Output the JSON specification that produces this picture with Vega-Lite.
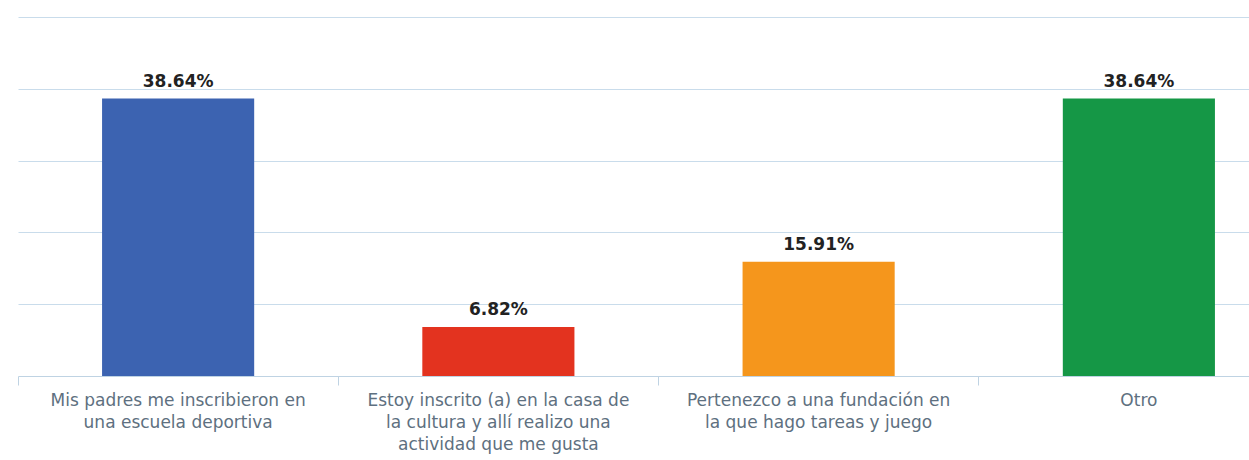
{
  "$schema": "https://vega.github.io/schema/vega-lite/v6.json",
  "width": 1231,
  "height": 359,
  "autosize": {"type": "none"},
  "padding": {"left": 18, "top": 17, "right": 0, "bottom": 84},
  "background": "white",
  "config": {"view": {"stroke": null}},
  "data": {
    "values": [
      {"cat": "Mis padres me inscribieron en|una escuela deportiva", "pct": 38.64, "label": "38.64%", "order": 1},
      {"cat": "Estoy inscrito (a) en la casa de|la cultura y allí realizo una|actividad que me gusta", "pct": 6.82, "label": "6.82%", "order": 2},
      {"cat": "Pertenezco a una fundación en|la que hago tareas y juego", "pct": 15.91, "label": "15.91%", "order": 3},
      {"cat": "Otro", "pct": 38.64, "label": "38.64%", "order": 4}
    ]
  },
  "encoding": {
    "x": {
      "field": "cat",
      "type": "nominal",
      "sort": {"field": "order"},
      "title": null,
      "scale": {"range": [0, 1281], "paddingInner": 0.525, "paddingOuter": 0.2625},
      "axis": {
        "labelAngle": 0,
        "labelExpr": "split(datum.label, '|')",
        "labelLimit": 0,
        "labelFont": "DejaVu Sans",
        "labelFontSize": 17,
        "labelColor": "#5E7080",
        "labelLineHeight": 22,
        "labelPadding": 7,
        "labelBaseline": "top",
        "bandPosition": -0.5526,
        "tickColor": "#BFD3E3",
        "tickSize": 9,
        "domainColor": "#BFD3E3",
        "domainWidth": 1,
        "grid": false
      }
    },
    "y": {
      "field": "pct",
      "type": "quantitative",
      "title": null,
      "scale": {"domain": [0, 50], "nice": false},
      "axis": {
        "values": [10, 20, 30, 40, 50],
        "labels": false,
        "ticks": false,
        "domain": false,
        "grid": true,
        "gridColor": "#C9DCEB",
        "gridWidth": 1
      }
    }
  },
  "layer": [
    {
      "mark": {"type": "bar", "clip": false},
      "encoding": {
        "color": {
          "field": "cat",
          "type": "nominal",
          "sort": {"field": "order"},
          "scale": {"range": ["#3C63B1", "#E3331F", "#F5961C", "#159746"]},
          "legend": null
        }
      }
    },
    {
      "mark": {"type": "text", "dy": -12, "fontWeight": "bold", "font": "DejaVu Sans", "fontSize": 17, "color": "#222222", "baseline": "alphabetic"},
      "encoding": {"text": {"field": "label"}}
    }
  ]
}
